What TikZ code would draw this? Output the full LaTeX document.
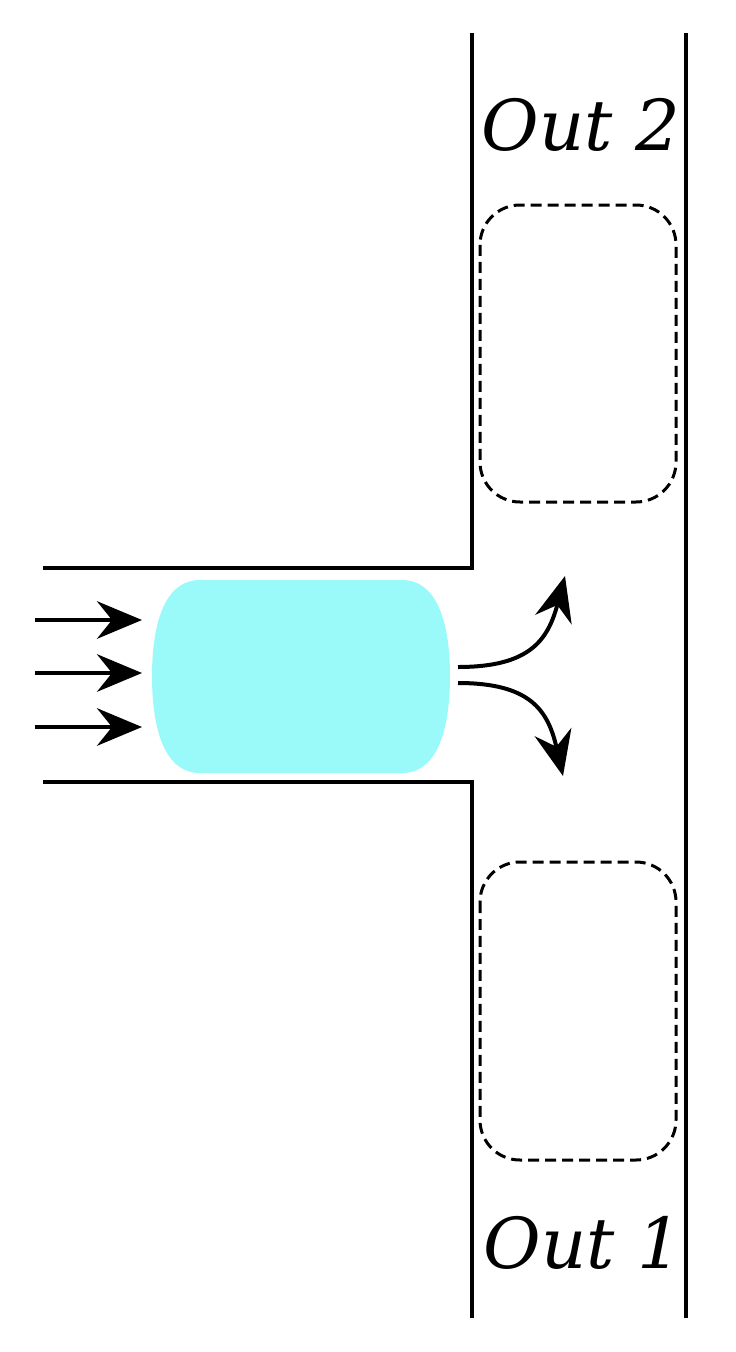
\documentclass[tikz,border=0pt]{standalone}
\usepackage{fontspec}
\setmainfont{DejaVu Serif}
\usetikzlibrary{arrows.meta}
\definecolor{blob}{HTML}{9AF9F9}
\tikzset{wall/.style={line width=0.08cm},
 dbox/.style={line width=0.06cm,dash pattern=on 0.22cm off 0.12cm,rounded corners=0.8cm},
 flow/.style={line width=0.08cm,-{Stealth[length=0.9cm,width=0.75cm,inset=0.3cm]}},
 lbl/.style={font=\itshape\fontsize{40}{48}\selectfont,inner sep=0}}
\begin{document}
\begin{tikzpicture}[x=0.02cm,y=-0.02cm]
\useasboundingbox (0,0) rectangle (736,1352);
\draw[wall] (686,33) -- (686,1318);
\draw[wall] (472,33) -- (472,568) -- (43,568);
\draw[wall] (43,782) -- (472,782) -- (472,1318);
\fill[blob] (200,580) -- (402,580) .. controls (438,580) and (450,625) .. (450,676)
  .. controls (450,728) and (438,773) .. (402,773) -- (200,773)
  .. controls (164,773) and (152,728) .. (152,676)
  .. controls (152,625) and (164,580) .. (200,580) -- cycle;
\node[draw=none,minimum size=0] (blob) at (301,676) {};
\draw[dbox] (480,205) rectangle (676,502);
\draw[dbox] (480,862) rectangle (676,1160);
\coordinate (a1s) at (35,620); \coordinate (a1e) at (142,620);
\coordinate (a2s) at (35,673); \coordinate (a2e) at (142,673);
\coordinate (a3s) at (35,727); \coordinate (a3e) at (142,727);
\draw[flow] (a1s) -- (a1e);
\draw[flow] (a2s) -- (a2e);
\draw[flow] (a3s) -- (a3e);
\coordinate (u0) at (458,667); \coordinate (u1) at (565,576);
\coordinate (d0) at (458,683); \coordinate (d1) at (563,776);
\draw[flow] (u0) .. controls (530,667) and (548,640) .. (u1);
\draw[flow] (d0) .. controls (530,683) and (548,710) .. (d1);
\node[lbl] (out2) at (581,125) {Out 2};
\node[lbl] (out1) at (583,1243) {Out 1};
\end{tikzpicture}
\end{document}
